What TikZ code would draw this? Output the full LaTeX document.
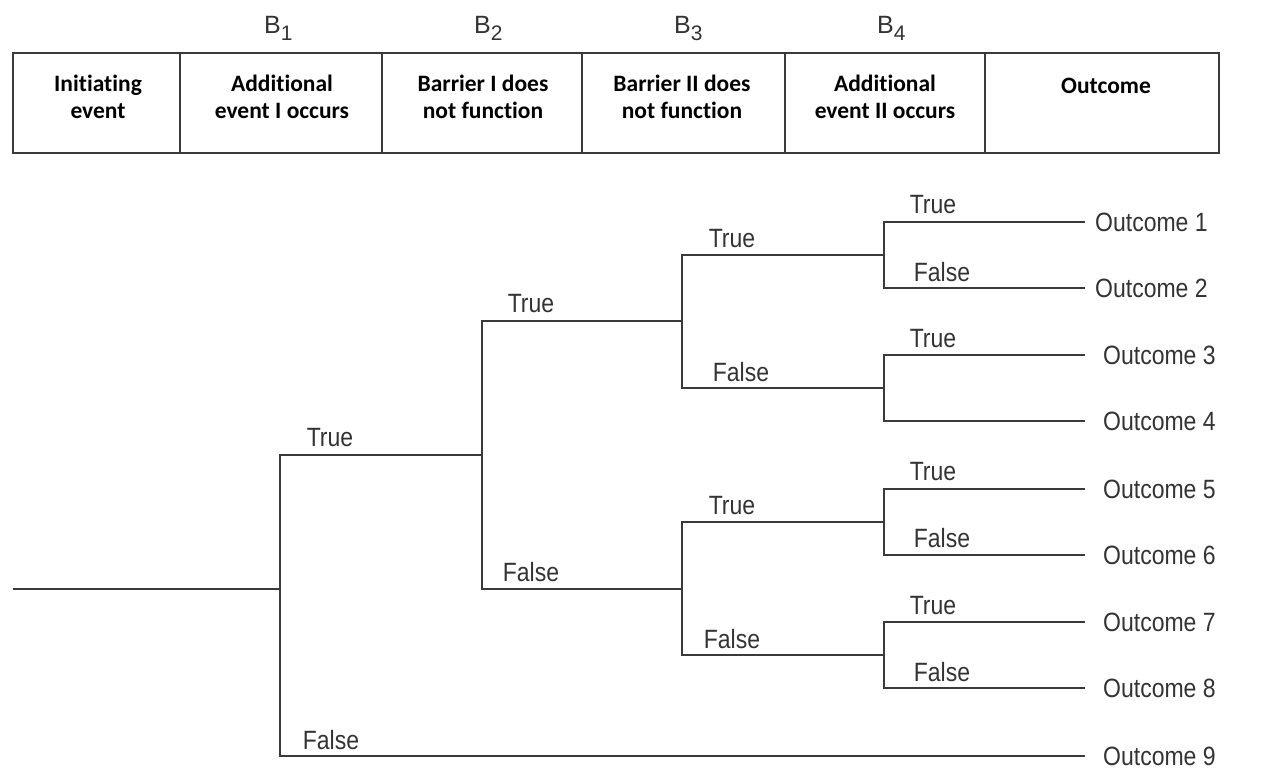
\documentclass[tikz,border=0pt]{standalone}
\usepackage{fontspec}
\setmainfont{Liberation Sans}
\newfontfamily\hdfont[Ligatures=CommonOff]{Carlito}
\newcommand{\tx}[1]{\scalebox{1}[1.15]{#1}}
\newcommand{\bsub}[1]{B\raisebox{-7pt}{\fontsize{21}{21}\selectfont #1}}
\definecolor{ink}{HTML}{333333}
\definecolor{lncol}{HTML}{3A3A3A}
\begin{document}
\begin{tikzpicture}[x=1pt,y=-1pt,
  ln/.style={draw=lncol, line width=2.1pt},
  box/.style={draw=lncol, line width=1.8pt},
  lbl/.style={font=\fontsize{23}{26}\selectfont, text=ink, inner sep=0pt},
  outc/.style={lbl, anchor=west},
  hd/.style={font=\hdfont\bfseries\fontsize{23.5}{27}\selectfont, text=black, inner sep=0pt},
  bl/.style={font=\fontsize{25}{28}\selectfont, text=ink, inner sep=0pt, anchor=base west}]
\useasboundingbox (0,0) rectangle (1264,784);

% header
\draw[box] (13,53) rectangle (1219,153);
\foreach \x in {180,382,582,785,985} \draw[box] (\x,53) -- (\x,153);
\node[hd] (h0) at (98,99.5) {\begin{tabular}{@{}c@{}}Initiating\\event\end{tabular}};
\node[hd] (h1) at (282,99.5) {\begin{tabular}{@{}c@{}}Additional\\event I occurs\end{tabular}};
\node[hd] (h2) at (483,99.5) {\begin{tabular}{@{}c@{}}Barrier I does\\not function\end{tabular}};
\node[hd] (h3) at (682,99.5) {\begin{tabular}{@{}c@{}}Barrier II does\\not function\end{tabular}};
\node[hd] (h4) at (885,99.5) {\begin{tabular}{@{}c@{}}Additional\\event II occurs\end{tabular}};
\node[hd] (h5) at (1106,86) {Outcome};
\node[bl] (b1) at (264,34) {\bsub{1}};
\node[bl] (b2) at (474,34) {\bsub{2}};
\node[bl] (b3) at (674,34) {\bsub{3}};
\node[bl] (b4) at (877,34) {\bsub{4}};

% tree junctions
\coordinate (r0) at (13,589);
\coordinate (j1) at (280,589);
\coordinate (j2) at (482,455);
\coordinate (j3a) at (682,321);
\coordinate (j3b) at (682,589);
\coordinate (j4a) at (884,255);
\coordinate (j4b) at (884,388);
\coordinate (j4c) at (884,522);
\coordinate (j4d) at (884,655);

% outcomes
\node[outc] (o1) at (1095,222) {\tx{Outcome 1}};
\node[outc] (o2) at (1095,288) {\tx{Outcome 2}};
\node[outc] (o3) at (1103,355) {\tx{Outcome 3}};
\node[outc] (o4) at (1103,421) {\tx{Outcome 4}};
\node[outc] (o5) at (1103,489) {\tx{Outcome 5}};
\node[outc] (o6) at (1103,555) {\tx{Outcome 6}};
\node[outc] (o7) at (1103,622) {\tx{Outcome 7}};
\node[outc] (o8) at (1103,688) {\tx{Outcome 8}};
\node[outc] (o9) at (1103,756) {\tx{Outcome 9}};

% branches
\draw[ln] (r0) -- (j1);
\draw[ln] (j1) |- (j2);
\draw[ln, shorten >=18pt] (j1) |- (o9.west);
\draw[ln] (j2) |- (j3a);
\draw[ln] (j2) |- (j3b);
\draw[ln] (j3a) |- (j4a);
\draw[ln] (j3a) |- (j4b);
\draw[ln] (j3b) |- (j4c);
\draw[ln] (j3b) |- (j4d);
\draw[ln, shorten >=10pt] (j4a) |- (o1.west);
\draw[ln, shorten >=10pt] (j4a) |- (o2.west);
\draw[ln, shorten >=18pt] (j4b) |- (o3.west);
\draw[ln, shorten >=18pt] (j4b) |- (o4.west);
\draw[ln, shorten >=18pt] (j4c) |- (o5.west);
\draw[ln, shorten >=18pt] (j4c) |- (o6.west);
\draw[ln, shorten >=18pt] (j4d) |- (o7.west);
\draw[ln, shorten >=18pt] (j4d) |- (o8.west);

% branch labels
\node[lbl] (t1) at (330,438) {\tx{True}};
\node[lbl] (f1) at (331,740) {\tx{False}};
\node[lbl] (t2) at (531,304) {\tx{True}};
\node[lbl] (f2) at (531,572) {\tx{False}};
\node[lbl] (t3a) at (732,239) {\tx{True}};
\node[lbl] (f3a) at (741,372) {\tx{False}};
\node[lbl] (t3b) at (732,506) {\tx{True}};
\node[lbl] (f3b) at (732,639) {\tx{False}};
\node[lbl] (t4a) at (933,205) {\tx{True}};
\node[lbl] (f4a) at (942,272) {\tx{False}};
\node[lbl] (t4b) at (933,339) {\tx{True}};
\node[lbl] (t4c) at (933,472) {\tx{True}};
\node[lbl] (f4c) at (942,538) {\tx{False}};
\node[lbl] (t4d) at (933,606) {\tx{True}};
\node[lbl] (f4d) at (942,672) {\tx{False}};
\end{tikzpicture}
\end{document}
